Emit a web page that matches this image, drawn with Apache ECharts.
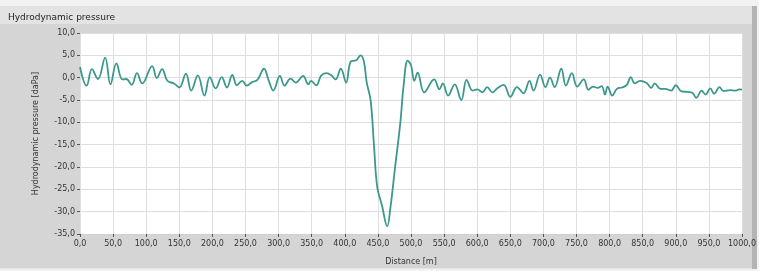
<!DOCTYPE html>
<html>
<head>
<meta charset="utf-8">
<script src="https://cdn.jsdelivr.net/npm/echarts@6/dist/echarts.min.js"></script>
<style>
html, body { margin: 0; padding: 0; background: #f2f2f2; }
#chart { width: 759px; height: 271px; }
</style>
</head>
<body>
<div id="chart"></div>
<script>
// distance along the line [m]
var distance = [0, 10, 18, 27, 38, 46, 55, 64, 70, 78, 86, 94, 109, 116, 124, 132, 142, 150, 160, 168,
    178, 188, 196, 205, 214, 222, 230, 237, 245, 252, 260, 268, 278, 285, 292, 302, 309, 318, 326, 337,
    345, 349, 357, 364, 372, 379, 386, 394, 402, 409, 417, 424, 429, 433, 439, 444, 449, 456, 464, 469,
    476, 484, 489, 495, 500, 505, 510, 520, 535, 543, 548, 556, 566, 576, 584, 593, 600, 608, 615, 623,
    630, 640, 650, 660, 670, 679, 685, 695, 703, 710, 717, 727, 734, 743, 751, 761, 768, 775, 782, 788,
    793, 797, 804, 811, 819, 826, 832, 838, 846, 856, 863, 868, 877, 884, 893, 900, 908, 918, 925, 931,
    939, 945, 952, 958, 966, 972, 982, 990, 996, 1000];
// hydrodynamic pressure [daPa]
var pressure = [2.4, -1.8, 1.9, -0.3, 4.5, -1.5, 3.2, -0.4, -0.3, -1.6, 1.0, -1.3, 2.6, -0.1, 1.9, -0.7, -1.3, -2.2, 0.9, -2.9,
    0.5, -4.0, 0.1, -2.4, 0.1, -2.2, 0.6, -1.7, -0.7, -1.8, -1.0, -0.5, 2.0, -0.6, -2.9, 0.4, -1.8, -0.2, -1.1, 0.4,
    -1.5, -0.7, -1.7, 0.4, 1.0, 0.6, -0.4, 2.0, -1.1, 3.6, 3.9, 5.0, 3.5, -1.0, -5.1, -15.0, -24.5, -28.5, -33.3, -29.0,
    -20.0, -9.9, -1.5, 3.8, 2.8, -0.7, 1.1, -3.3, -0.4, -2.6, -1.3, -4.0, -1.5, -5.0, -0.5, -2.9, -2.6, -3.3, -2.1, -3.3,
    -2.4, -1.6, -4.3, -2.1, -3.5, -0.7, -2.9, 0.7, -2.1, 0.0, -2.1, 2.0, -1.8, 1.0, -2.0, -0.4, -2.7, -2.0, -2.3, -1.9,
    -3.8, -2.0, -4.0, -2.5, -2.2, -1.6, 0.1, -1.3, -0.7, -1.2, -2.3, -1.3, -2.5, -2.5, -2.9, -1.7, -3.0, -3.2, -3.4, -4.5,
    -2.9, -3.8, -2.4, -3.6, -2.1, -3.0, -2.8, -2.9, -2.6, -2.7];

var points = distance.map(function (d, i) { return [d, pressure[i]]; });

function comma(v) { return v.toFixed(1).replace('.', ','); }

var chart = echarts.init(document.getElementById('chart'));
var option = {
    animation: false,
    backgroundColor: '#f2f2f2',
    textStyle: { fontFamily: 'DejaVu Sans' },
    graphic: [
        { type: 'rect', z: -10, shape: { x: 0, y: 6, width: 757, height: 263 }, style: { fill: '#e3e3e3' } },
        { type: 'rect', z: -9, shape: { x: 0, y: 24, width: 752, height: 244 }, style: { fill: '#d5d5d5' } },
        { type: 'rect', z: -9, shape: { x: 752, y: 6, width: 5, height: 263 }, style: { fill: '#b4b4b4' } }
    ],
    title: {
        text: 'Hydrodynamic pressure',
        left: 3, top: 8,
        textStyle: { fontSize: 9, fontWeight: 'normal', color: '#222', fontFamily: 'DejaVu Sans' }
    },
    grid: { left: 80, right: 9, top: 33, bottom: 34, show: true, backgroundColor: '#ffffff', borderWidth: 0 },
    xAxis: {
        type: 'value',
        min: 0, max: 1000, interval: 50,
        name: 'Distance [m]',
        nameLocation: 'center',
        nameGap: 24,
        nameTextStyle: { fontSize: 8, color: '#333' },
        axisLine: { show: true, onZero: false, lineStyle: { color: '#cfcfcf' } },
        axisTick: { show: true, length: 3, lineStyle: { color: '#555' } },
        axisLabel: { fontSize: 8, color: '#333', margin: 6, formatter: comma },
        splitLine: { show: true, lineStyle: { color: '#dedede', width: 1 } }
    },
    yAxis: {
        type: 'value',
        min: -35, max: 10, interval: 5,
        name: 'Hydrodynamic pressure [daPa]',
        nameLocation: 'center',
        nameGap: 40,
        nameTextStyle: { fontSize: 8, color: '#333' },
        axisLine: { show: false },
        axisTick: { show: true, length: 3, lineStyle: { color: '#555' } },
        axisLabel: { fontSize: 8, color: '#333', margin: 5, formatter: comma },
        splitLine: { show: true, lineStyle: { color: '#dedede', width: 1 } }
    },
    series: [{
        type: 'line',
        data: points,
        smooth: 0.4,
        showSymbol: false,
        lineStyle: { color: '#3c988c', width: 1.8 },
        itemStyle: { color: '#3c988c' }
    }]
};
chart.setOption(option);
</script>
</body>
</html>
